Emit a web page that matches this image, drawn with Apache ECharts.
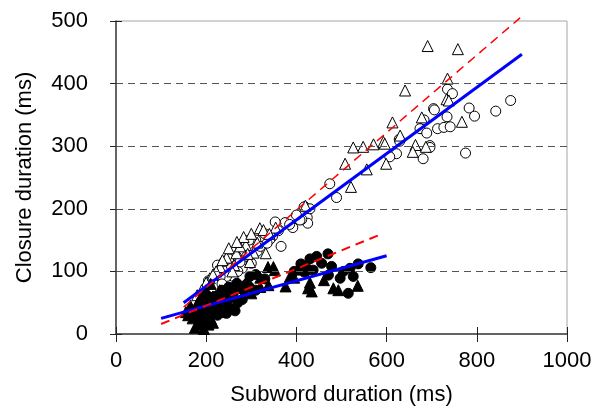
<!DOCTYPE html>
<html>
<head>
<meta charset="utf-8">
<script src="https://cdn.jsdelivr.net/npm/echarts@6/dist/echarts.min.js"></script>
<style>
  html, body { margin: 0; padding: 0; background: #fff; }
  #chart { width: 601px; height: 412px; }
</style>
</head>
<body>
<div id="chart"></div>
<script>
// axis ticks
var xTicks = [0, 200, 400, 600, 800, 1000];
var yTicks = [0, 100, 200, 300, 400, 500];
var gridValues = [100, 200, 300, 400];

// upper group (open markers)
var openTri = [
    [691,460],[758,455],[735,408],[641,389],[733,375],[738,373],[767,339],[678,346],
    [613,338],[630,317],[593,307],[571,303],[548,299],[526,298],[664,302],[687,299],
    [596,304],[658,291],[508,272],[556,263],[599,272],[521,235],[319,169],[327,166],
    [354,170],[313,146],[288,142],[332,129],[267,129],[262,110],[208,89],[231,107],
    [297,115],[305,130],[245,122],[275,140],[222,100],[200,82],[190,70],[180,62],
    [250,137],[283,155],[340,160],[300,160],[236,118],[215,95],[268,147],[292,128],
    [258,100],[420,205]
];
var openCirc = [
    [735,391],[746,384],[704,360],[706,358],[683,342],[734,347],[783,361],[795,348],
    [842,356],[875,373],[674,328],[689,321],[713,328],[727,330],[741,331],[628,311],
    [696,301],[629,308],[622,288],[607,283],[681,280],[696,298],[775,289],[474,240],
    [489,218],[419,203],[424,186],[425,177],[412,183],[417,203],[408,182],[392,170],
    [375,178],[353,179],[366,140],[347,156],[341,151],[310,150],[297,137],[313,132],
    [290,124],[267,124],[256,108],[240,116],[260,92],[245,92],[231,92],[223,97],
    [300,113],[280,105],[270,100],[330,160],[360,165],[385,175],[235,80],[210,70],
    [250,120],[320,140],[275,115],[400,190],[430,200],[335,145],[295,150],[205,85],
    [225,110]
];

// lower group (filled markers)
var filledTri = [
    [430,82],[434,68],[426,73],[461,86],[482,73],[493,70],[536,77],[349,107],
    [352,102],[337,107],[338,78],[376,76],[386,92],[395,90],[160,30],[170,25],
    [175,40],[180,15],[185,35],[190,20],[195,50],[200,30],[205,45],[210,25],
    [215,60],[220,40],[225,55],[230,35],[240,65],[250,50],[185,55],[175,10],
    [195,8],[205,15],[165,45],[190,60],[200,70],[210,80],[230,70],[260,60],
    [270,75],[290,85],[320,90],[320,75],[300,65],[180,48],[215,18],[155,35],
    [250,70],[235,48]
];
var filledCirc = [
    [470,128],[445,124],[430,120],[456,113],[478,108],[423,105],[417,99],[437,102],
    [471,94],[519,105],[537,112],[565,106],[526,92],[504,100],[497,89],[515,65],
    [406,102],[421,100],[297,92],[296,75],[268,81],[245,33],[264,37],[282,70],
    [180,30],[190,40],[200,50],[210,35],[220,60],[230,45],[240,55],[250,75],
    [260,65],[270,50],[185,20],[195,25],[205,60],[215,45],[225,30],[235,70],
    [290,80],[310,95],[330,88],[170,35],[200,15],[280,55],[255,40],[310,70],
    [395,100],[410,112]
];

// fitted lines (end points)
var blueUpper = [[150,50],[900,447]];
var redUpper = [[150,43],[896,505]];
var blueLower = [[100,25],[600,125]];
var redLower = [[100,16],[590,160]];

var chart = echarts.init(document.getElementById('chart'));

var font = 'Liberation Sans, Arial, sans-serif';

function scatter(name, data, symbol, filled, size) {
    return {
        name: name,
        type: 'scatter',
        data: data,
        symbol: symbol,
        symbolSize: size,
        itemStyle: {
            color: filled ? '#000' : '#fff',
            borderColor: '#000',
            borderWidth: 1,
            opacity: 1
        },
        z: 3
    };
}

function fitLine(name, data, color, dashed, width) {
    return {
        name: name,
        type: 'line',
        data: data,
        showSymbol: false,
        clip: false,
        lineStyle: {
            color: color,
            width: width,
            type: dashed ? [9, 6] : 'solid'
        },
        z: 5
    };
}

option = {
    animation: false,
    grid: {
        left: 116,
        right: 34,
        top: 21,
        bottom: 78,
        show: true,
        borderColor: '#a6a6a6',
        borderWidth: 1
    },
    xAxis: [{
        type: 'value',
        min: xTicks[0],
        max: xTicks[xTicks.length - 1],
        interval: 200,
        name: 'Subword duration (ms)',
        nameLocation: 'middle',
        nameGap: 50,
        nameTextStyle: { fontFamily: font, fontSize: 22, color: '#000' },
        axisLine: { onZero: false, lineStyle: { color: '#404040', width: 1.5 } },
        axisTick: { length: 8, lineStyle: { color: '#222' } },
        axisLabel: {
            fontFamily: font, fontSize: 22, color: '#000', margin: 16,
            formatter: function (v) { return String(v); }
        },
        splitLine: { show: false }
    }, {
        type: 'value',
        position: 'bottom',
        min: xTicks[0],
        max: xTicks[xTicks.length - 1],
        interval: 200,
        axisLine: { show: false },
        axisTick: { inside: true, length: 7, lineStyle: { color: '#222' } },
        axisLabel: { show: false },
        splitLine: { show: false }
    }],
    yAxis: [{
        type: 'value',
        min: yTicks[0],
        max: yTicks[yTicks.length - 1],
        interval: 100,
        name: 'Closure duration (ms)',
        nameLocation: 'middle',
        nameGap: 80,
        nameTextStyle: { fontFamily: font, fontSize: 22, color: '#000' },
        axisLine: { onZero: false, lineStyle: { color: '#404040', width: 1.5 } },
        axisTick: { length: 6, lineStyle: { color: '#222' } },
        axisLabel: {
            fontFamily: font, fontSize: 22, color: '#000', margin: 28,
            formatter: function (v) { return String(v); }
        },
        splitLine: { show: false }
    }, {
        type: 'value',
        position: 'left',
        min: yTicks[0],
        max: yTicks[yTicks.length - 1],
        interval: 100,
        axisLine: { show: false },
        axisTick: { inside: true, length: 6, lineStyle: { color: '#222' } },
        axisLabel: { show: false },
        splitLine: { show: false }
    }],
    series: [
        {
            type: 'line',
            data: [],
            markLine: {
                silent: true,
                symbol: 'none',
                label: { show: false },
                lineStyle: { color: '#555', type: [7, 5], width: 1 },
                data: gridValues.map(function (v) { return { yAxis: v }; })
            },
            z: 1
        },
        scatter('openCirc', openCirc, 'circle', false, 10),
        scatter('openTri', openTri, 'triangle', false, 11),
        scatter('filledCirc', filledCirc, 'circle', true, 10),
        scatter('filledTri', filledTri, 'triangle', true, 11),
        fitLine('blueUpper', blueUpper, '#0000ff', false, 3),
        fitLine('redUpper', redUpper, '#ff0000', true, 1.5),
        fitLine('blueLower', blueLower, '#0000ff', false, 3),
        fitLine('redLower', redLower, '#ff0000', true, 2)
    ]
};

chart.setOption(option);
</script>
</body>
</html>
